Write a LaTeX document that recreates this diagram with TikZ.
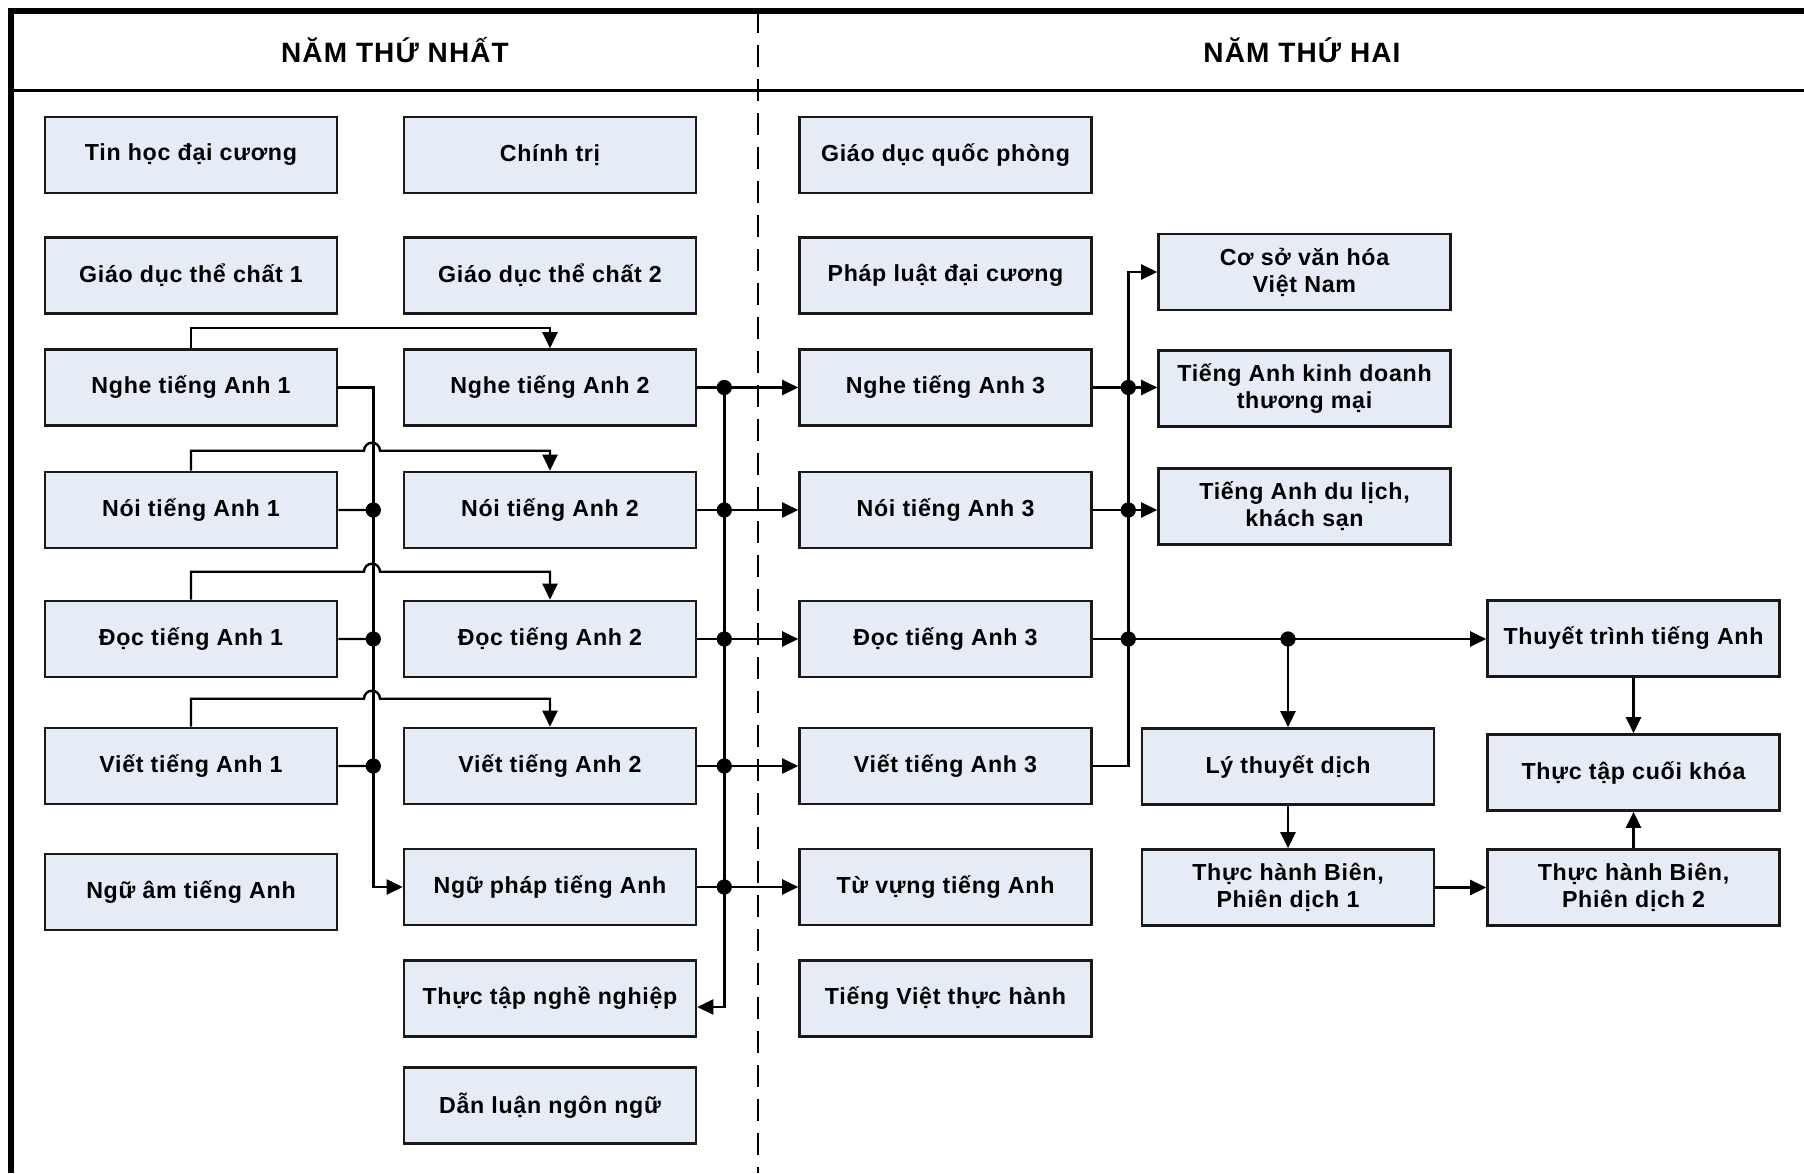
\documentclass[tikz,border=0pt]{standalone}
\usepackage{fontspec}
\usepackage{tikz}
\usetikzlibrary{arrows.meta}
\newfontfamily\boxfont{Liberation Sans}[LetterSpace=3]
\newfontfamily\headfont{Liberation Sans}[LetterSpace=4]
\definecolor{boxfill}{RGB}{230,236,246}

\begin{document}
\begin{tikzpicture}[x=0.5pt,y=-0.5pt,line width=1.2pt,
  course/.style={draw=black!90,line width=1.3pt,fill=boxfill,minimum width=146pt,minimum height=38pt,inner sep=2pt,align=center,font=\boxfont\bfseries\fontsize{11.6}{13.5}\selectfont},
  hdr/.style={font=\headfont\bfseries\fontsize{14}{16}\selectfont},
  arr/.style={-{Triangle[length=8pt,width=7.5pt]}}]
\useasboundingbox (0,0) rectangle (1804,1173);
\draw[line width=2.8pt] (11,1173) -- (11,11) -- (1804,11);
\draw[line width=1.5pt] (11,90) -- (1804,90);
\draw[line width=1.3pt,dash pattern=on 11pt off 6pt] (758,11) -- (758,1173);
\node[hdr] (year1) at (395,50) {NĂM THỨ NHẤT};
\node[hdr] (year2) at (1302,50) {NĂM THỨ HAI};

\node[course] (tinhoc) at (191,155) {Tin học đại cương};
\node[course] (chinhtri) at (550,155) {Chính trị};
\node[course] (gdqp) at (945.5,155) {Giáo dục quốc phòng};
\node[course] (gdtc1) at (191,275.5) {Giáo dục thể chất 1};
\node[course] (gdtc2) at (550,275.5) {Giáo dục thể chất 2};
\node[course] (phapluat) at (945.5,275.5) {Pháp luật đại cương};
\node[course] (coso) at (1304.5,272) {Cơ sở văn hóa\\Việt Nam};
\foreach \s/\t/\y in {nghe/Nghe/387.5,noi/Nói/510,doc/Đọc/639,viet/Viết/766}{
  \node[course] (\s1) at (191,\y) {\t\ tiếng Anh 1};
  \node[course] (\s2) at (550,\y) {\t\ tiếng Anh 2};
  \node[course] (\s3) at (945.5,\y) {\t\ tiếng Anh 3};
}
\node[course] (kinhdoanh) at (1304.5,388.5) {Tiếng Anh kinh doanh\\thương mại};
\node[course] (dulich) at (1304.5,506.5) {Tiếng Anh du lịch,\\khách sạn};
\node[course] (thuyettrinh) at (1633.5,638.5) {Thuyết trình tiếng Anh};
\node[course] (lythuyet) at (1288,766.5) {Lý thuyết dịch};
\node[course] (cuoikhoa) at (1633.5,772.5) {Thực tập cuối khóa};
\node[course] (nguam) at (191,892) {Ngữ âm tiếng Anh};
\node[course] (nguphap) at (550,887) {Ngữ pháp tiếng Anh};
\node[course] (tuvung) at (945.5,887) {Từ vựng tiếng Anh};
\node[course] (bien1) at (1288,887.5) {Thực hành Biên,\\Phiên dịch 1};
\node[course] (bien2) at (1633.5,887.5) {Thực hành Biên,\\Phiên dịch 2};
\node[course] (thuctapnn) at (550,998.5) {Thực tập nghề nghiệp};
\node[course] (tiengviet) at (945.5,998.5) {Tiếng Việt thực hành};
\node[course] (danluan) at (550,1105.5) {Dẫn luận ngôn ngữ};

% year one
\draw[arr] (nghe1.north) -- ++(0,-20) -| (nghe2.north);
\draw[arr] (noi1.north) -- ++(0,-20) -- ++(173,0) arc[start angle=180,end angle=0,radius=4pt] -| (noi2.north);
\draw[arr] (doc1.north) -- ++(0,-28) -- ++(173,0) arc[start angle=180,end angle=0,radius=4pt] -| (doc2.north);
\draw[arr] (viet1.north) -- ++(0,-28) -- ++(173,0) arc[start angle=180,end angle=0,radius=4pt] -| (viet2.north);
\draw[arr] (nghe1.east) -- ++(35,0) |- (nguphap.west);
\foreach \s in {noi,doc,viet}
  \filldraw (\s1.east) -- ++(35,0) circle (3.2pt);

\draw[arr] (nghe2.east) -- ++(27,0) |- ([yshift=-4.25pt]thuctapnn.east);
\foreach \s in {nghe,noi,doc,viet}{
  \draw[arr] (\s2.east) -- (\s3.west);
  \filldraw (\s2.east) ++(27,0) circle (3.2pt);
}
\draw[arr] (nguphap.east) -- (tuvung.west);
\filldraw (nguphap.east) ++(27,0) circle (3.2pt);

% year two
\draw[arr] (viet3.east) -- ++(35.5,0) |- (coso.west);
\draw[arr] (nghe3.east) -- (nghe3.east -| kinhdoanh.west);
\draw[arr] (noi3.east) -- (noi3.east -| dulich.west);
\draw[arr] (doc3.east) -- (doc3.east -| thuyettrinh.west);
\foreach \s in {nghe,noi,doc}
  \filldraw (\s3.east) ++(35.5,0) circle (3.2pt);
\draw[arr] (lythuyet.north |- doc3.east) -- (lythuyet.north);
\filldraw (lythuyet.north |- doc3.east) circle (3.2pt);
\draw[arr] (lythuyet.south) -- (bien1.north);
\draw[arr] (bien1.east) -- (bien2.west);
\draw[arr] (bien2.north) -- (cuoikhoa.south);
\draw[arr] (thuyettrinh.south) -- (cuoikhoa.north);
\end{tikzpicture}
\end{document}
